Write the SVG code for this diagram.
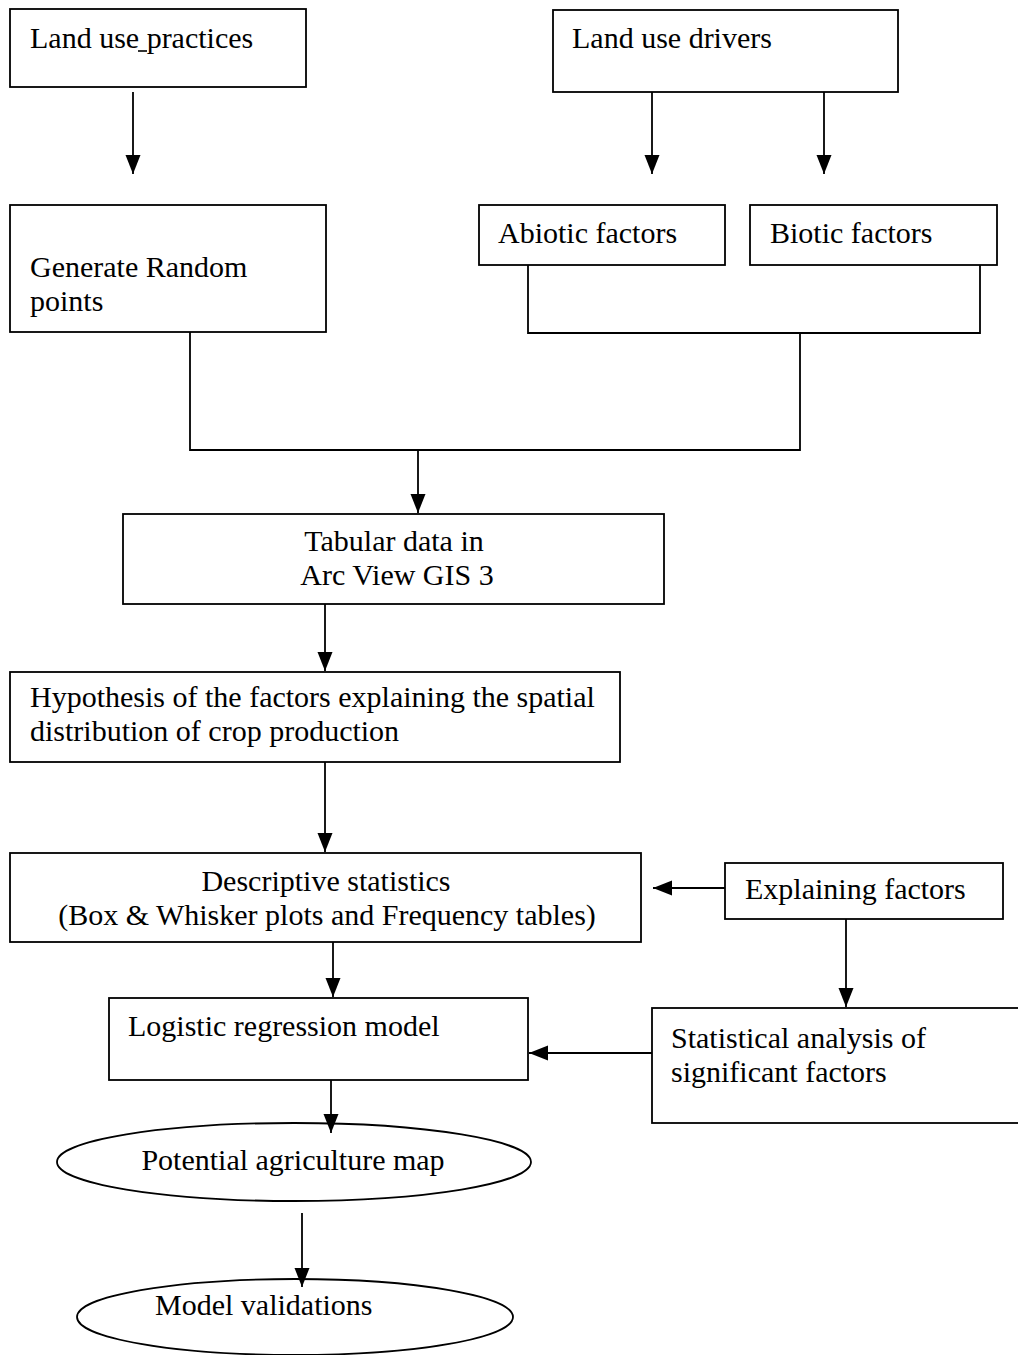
<svg xmlns="http://www.w3.org/2000/svg" width="1018" height="1355" viewBox="0 0 1018 1355">
<style>
.box{fill:#fff;stroke:#000;stroke-width:1.8}
.t{font-family:"Liberation Serif","Times New Roman",serif;font-size:30px;fill:#000}
.c{text-anchor:middle}
.ln{fill:none;stroke:#000;stroke-width:1.8}
</style>
<defs>
<marker id="ah" markerUnits="userSpaceOnUse" markerWidth="20" markerHeight="16" refX="19" refY="7.5" orient="auto">
<path d="M0,0 L19,7.5 L0,15 z" fill="#000"/>
</marker>
</defs>
<rect width="1018" height="1355" fill="#fff"/>
<g id="n-landuse-practices">
<rect class="box" x="10" y="9" width="296" height="78"/>
<text class="t" x="30" y="48">Land use practices</text>
<line x1="138" y1="51" x2="147" y2="51" stroke="#000" stroke-width="1.6"/>
</g>
<g id="n-landuse-drivers">
<rect class="box" x="553" y="10" width="345" height="82"/>
<text class="t" x="572" y="48">Land use drivers</text>
</g>
<g id="n-random-points">
<rect class="box" x="10" y="205" width="316" height="127"/>
<text class="t" x="30" y="277">Generate Random</text>
<text class="t" x="30" y="311">points</text>
</g>
<g id="n-abiotic">
<rect class="box" x="479" y="205" width="246" height="60"/>
<text class="t" x="498" y="243">Abiotic factors</text>
</g>
<g id="n-biotic">
<rect class="box" x="750" y="205" width="247" height="60"/>
<text class="t" x="770" y="243">Biotic factors</text>
</g>
<g id="n-tabular">
<rect class="box" x="123" y="514" width="541" height="90"/>
<text class="t c" x="394" y="551">Tabular data in</text>
<text class="t c" x="397" y="585">Arc View GIS 3</text>
</g>
<g id="n-hypothesis">
<rect class="box" x="10" y="672" width="610" height="90"/>
<text class="t" x="30" y="707">Hypothesis of the factors explaining the spatial</text>
<text class="t" x="30" y="741">distribution of crop production</text>
</g>
<g id="n-descriptive">
<rect class="box" x="10" y="853" width="631" height="89"/>
<text class="t c" x="326" y="891">Descriptive statistics</text>
<text class="t c" x="327" y="925">(Box &amp; Whisker plots and Frequency tables)</text>
</g>
<g id="n-explaining">
<rect class="box" x="725" y="863" width="278" height="56"/>
<text class="t" x="745" y="899">Explaining factors</text>
</g>
<g id="n-logistic">
<rect class="box" x="109" y="998" width="419" height="82"/>
<text class="t" x="128" y="1036">Logistic regression model</text>
</g>
<g id="n-statistical">
<rect class="box" x="652" y="1008" width="380" height="115"/>
<text class="t" x="671" y="1048">Statistical analysis of</text>
<text class="t" x="671" y="1082">significant factors</text>
</g>
<g id="n-potential-map">
<ellipse class="box" cx="294" cy="1162" rx="237" ry="39"/>
<text class="t c" x="293" y="1170">Potential agriculture map</text>
</g>
<g id="n-validation">
<ellipse class="box" cx="295" cy="1317" rx="218" ry="38"/>
<text class="t" x="155" y="1315">Model validations</text>
</g>
<g id="connectors">
<line class="ln" x1="133" y1="92" x2="133" y2="174" marker-end="url(#ah)"/>
<line class="ln" x1="652" y1="92" x2="652" y2="174" marker-end="url(#ah)"/>
<line class="ln" x1="824" y1="92" x2="824" y2="174" marker-end="url(#ah)"/>
<polyline class="ln" points="528,265 528,333 980,333 980,265"/>
<polyline class="ln" points="190,332 190,450 800,450 800,333"/>
<line class="ln" x1="418" y1="450" x2="418" y2="513" marker-end="url(#ah)"/>
<line class="ln" x1="325" y1="604" x2="325" y2="671" marker-end="url(#ah)"/>
<line class="ln" x1="325" y1="762" x2="325" y2="852" marker-end="url(#ah)"/>
<line class="ln" x1="725" y1="888" x2="653" y2="888" marker-end="url(#ah)"/>
<line class="ln" x1="846" y1="919" x2="846" y2="1007" marker-end="url(#ah)"/>
<line class="ln" x1="333" y1="942" x2="333" y2="997" marker-end="url(#ah)"/>
<line class="ln" x1="652" y1="1053" x2="529" y2="1053" marker-end="url(#ah)"/>
<line class="ln" x1="331" y1="1080" x2="331" y2="1133" marker-end="url(#ah)"/>
<line class="ln" x1="302" y1="1213" x2="302" y2="1287" marker-end="url(#ah)"/>
</g>
</svg>
